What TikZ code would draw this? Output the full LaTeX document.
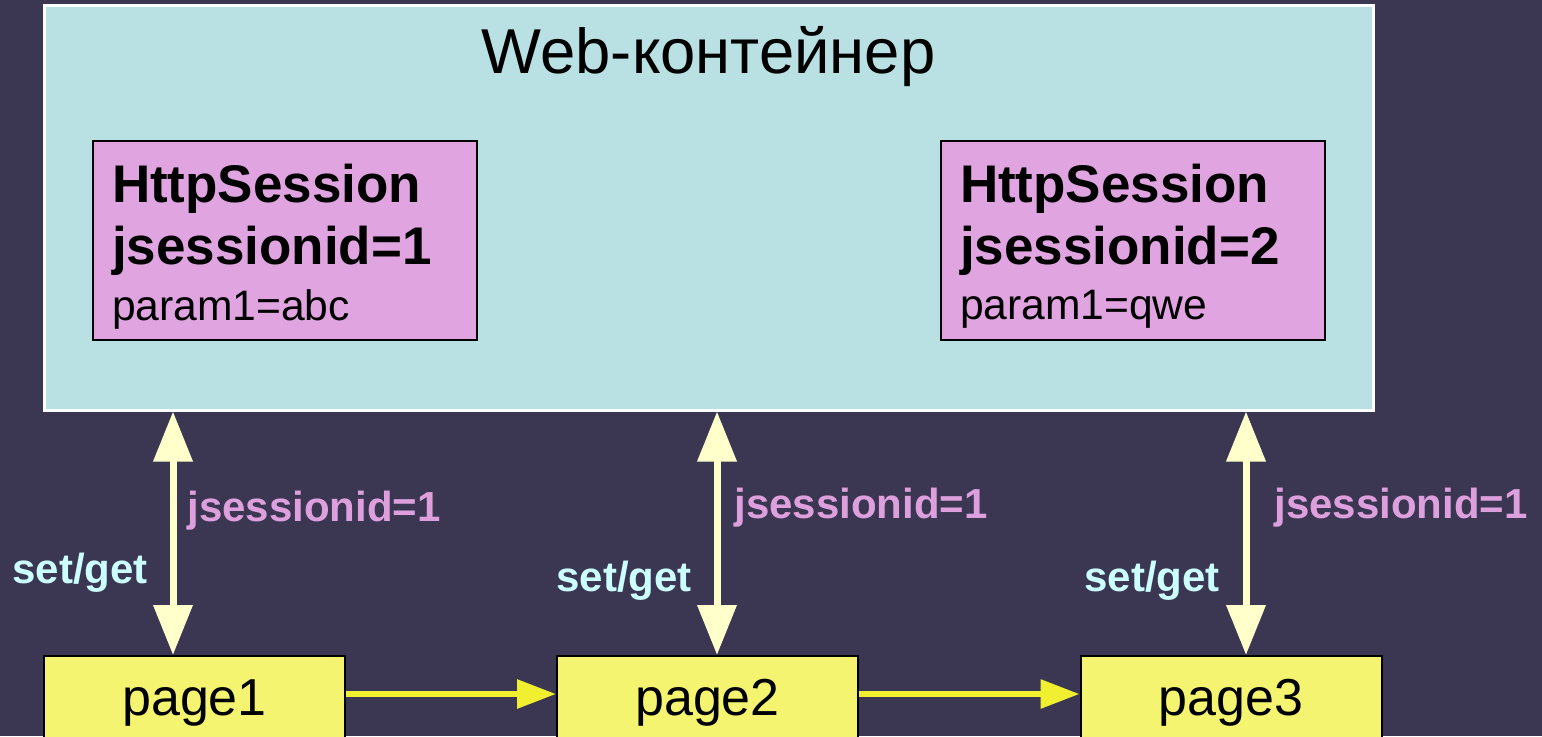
\documentclass[tikz,border=0pt]{standalone}
\usepackage{fontspec}
\setmainfont{Liberation Sans}
\usetikzlibrary{arrows.meta}
\definecolor{bgc}{HTML}{3B3753}
\definecolor{contc}{HTML}{B9E0E2}
\definecolor{sessc}{HTML}{E0A4E0}
\definecolor{pagec}{HTML}{F4F470}
\definecolor{varc}{HTML}{FFFFCC}
\definecolor{harc}{HTML}{F0F030}
\definecolor{idc}{HTML}{DDA0DD}
\definecolor{sgc}{HTML}{CCFFFF}
\tikzset{
  container/.style={draw=white, line width=1.5pt, fill=contc, inner sep=0pt,
    minimum width=664.5pt, minimum height=202.5pt},
  session/.style={draw=black, line width=1pt, fill=sessc, inner xsep=9.5pt, inner ysep=0pt,
    text width=173pt, minimum height=99.5pt, align=left},
  pagebox/.style={draw=black, line width=1pt, fill=pagec, inner sep=0pt,
    minimum width=150.5pt, minimum height=47pt, font=\fontsize{26}{30}\selectfont},
  varrow/.style={draw=varc, line width=3.5pt, {Triangle[width=19pt,length=25pt]}-{Triangle[width=19pt,length=25pt]}, shorten <=0pt, shorten >=0pt},
  harrow/.style={draw=harc, line width=3pt, -{Triangle[width=14pt,length=19.5pt]}},
  idlabel/.style={text=idc, font=\fontsize{21}{25}\selectfont\bfseries, inner sep=0pt},
  sglabel/.style={text=sgc, font=\fontsize{21}{25}\selectfont\bfseries, inner sep=0pt},
}
\newcommand{\sesstext}[2]{{\fontsize{26.5}{31}\selectfont\bfseries\rule{0pt}{25pt}HttpSession\\[0pt]jsessionid=#1\\[6pt]}{\fontsize{21.3}{25}\selectfont param1=#2}}
\begin{document}
\begin{tikzpicture}[x=0.5pt,y=-0.5pt]
\useasboundingbox (0,0) rectangle (1542,736);
\clip (0,0) rectangle (1542,736);
\fill[bgc] (0,0) rectangle (1542,736);
\node[container] (cont) at (708.5,207.5) {};
\node[font=\fontsize{31.7}{37}\selectfont, inner sep=0pt] (title) at (708.5,57) {Web-контейнер};
\node[session] (s1) at (285,240.5) {\sesstext{1}{abc}};
\node[session] (s2) at (1133,240.5) {\sesstext{2}{qwe}};
\node[pagebox] (p1) at (194.5,703) {page1};
\node[pagebox] (p2) at (707.5,703) {page2};
\node[pagebox] (p3) at (1231,703) {page3};
\coordinate (a1) at (173,0);
\coordinate (a2) at (717,0);
\coordinate (a3) at (1246,0);
\coordinate (hy) at (0,694);
\draw[varrow] (cont.south -| a1) -- (p1.north -| a1);
\draw[varrow] (cont.south -| a2) -- (p2.north -| a2);
\draw[varrow] (cont.south -| a3) -- (p3.north -| a3);
\draw[harrow] (p1.east |- hy) -- (p2.west |- hy);
\draw[harrow] (p2.east |- hy) -- (p3.west |- hy);
\node[idlabel] (id1) at (314,511) {jsessionid=1};
\node[idlabel] (id2) at (861,508) {jsessionid=1};
\node[idlabel] (id3) at (1401,508) {jsessionid=1};
\node[sglabel] (sg1) at (80,573) {set/get};
\node[sglabel] (sg2) at (624,581) {set/get};
\node[sglabel] (sg3) at (1152,581) {set/get};
\end{tikzpicture}
\end{document}
